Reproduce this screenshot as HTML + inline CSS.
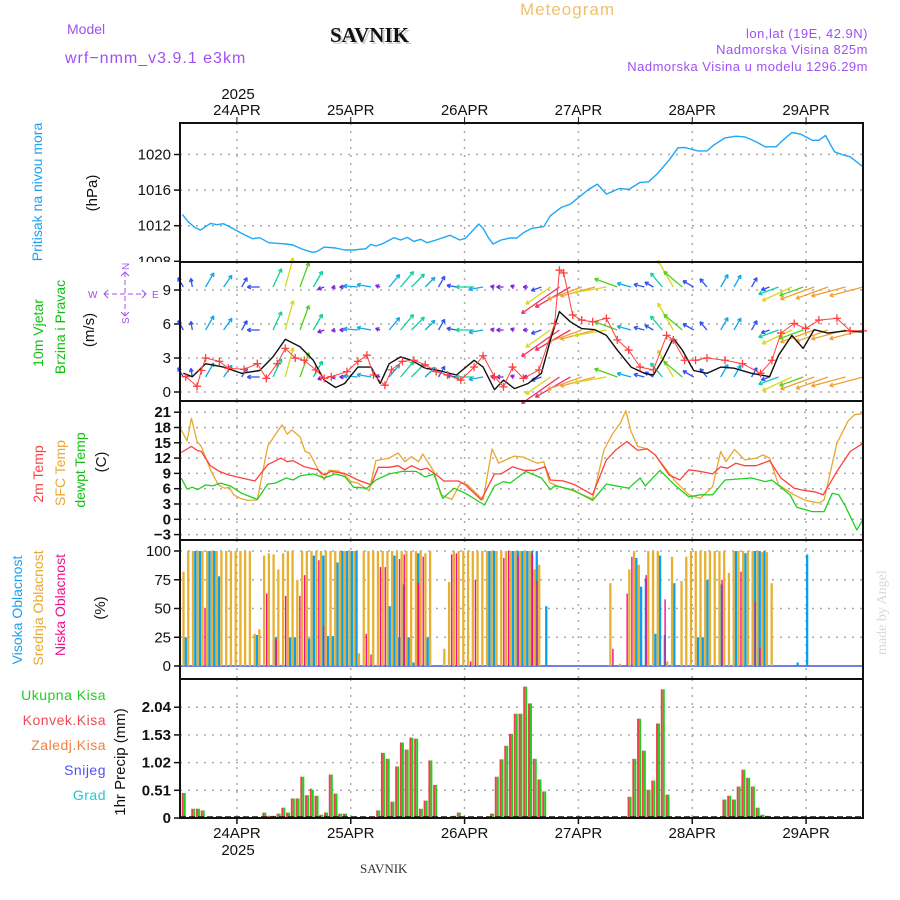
<!DOCTYPE html>
<html><head><meta charset="utf-8"><style>
html,body{margin:0;padding:0;background:#fff;}
svg{display:block;font-family:"Liberation Sans",sans-serif;}
</style></head><body>
<svg id="c" width="900" height="900" viewBox="0 0 900 900">
<defs><clipPath id="pclip"><rect x="0" y="0" width="900" height="262"/></clipPath></defs>
<g>
<text x="520" y="15" font-size="17" fill="#f0c070" letter-spacing="1">Meteogram</text>
<text x="332" y="44" font-size="21" font-weight="bold" font-family="Liberation Serif,serif" fill="#ccc">SAVNIK</text>
<text x="330" y="42" font-size="21" font-weight="bold" font-family="Liberation Serif,serif" fill="#111">SAVNIK</text>
<text x="67" y="34" font-size="14" fill="#a050f0">Model</text>
<text x="65" y="63" font-size="16" fill="#a050f0" letter-spacing="1">wrf−nmm_v3.9.1 e3km</text>
<text x="868" y="38" font-size="13" fill="#a050f0" text-anchor="end" letter-spacing="0.5">lon,lat (19E, 42.9N)</text>
<text x="868" y="54" font-size="13" fill="#a050f0" text-anchor="end" letter-spacing="0.5">Nadmorska Visina 825m</text>
<text x="868" y="71" font-size="13" fill="#a050f0" text-anchor="end" letter-spacing="0.5">Nadmorska Visina u modelu 1296.29m</text>
<text x="238" y="99" font-size="15" text-anchor="middle" fill="#111">2025</text>
<text x="360" y="873" font-size="13" font-family="Liberation Serif,serif" fill="#333">SAVNIK</text>
<text transform="translate(886,655) rotate(-90)" font-size="14" font-family="Liberation Serif,serif" fill="#d8d8d8">made by Angel</text>
<text x="238" y="855" font-size="15" text-anchor="middle" fill="#111">2025</text>
</g>
<g>
<text transform="translate(42,192) rotate(-90)" font-size="14" fill="#1ea0f0" text-anchor="middle">Pritisak na nivou mora</text>
<text transform="translate(97,193) rotate(-90)" font-size="15" fill="#111" text-anchor="middle">(hPa)</text>
<text transform="translate(43,333) rotate(-90)" font-size="14" fill="#10c010" text-anchor="middle">10m Vjetar</text>
<text transform="translate(65,327) rotate(-90)" font-size="14" fill="#10c010" text-anchor="middle">Brzina i Pravac</text>
<text transform="translate(94,330) rotate(-90)" font-size="15" fill="#111" text-anchor="middle">(m/s)</text>
<text transform="translate(43,474) rotate(-90)" font-size="14" fill="#ff4040" text-anchor="middle">2m Temp</text>
<text transform="translate(65,473) rotate(-90)" font-size="14" fill="#e8a830" text-anchor="middle">SFC Temp</text>
<text transform="translate(85,470) rotate(-90)" font-size="14" fill="#10c010" text-anchor="middle">dewpt Temp</text>
<text transform="translate(106,462) rotate(-90)" font-size="15" fill="#111" text-anchor="middle">(C)</text>
<text transform="translate(22,610) rotate(-90)" font-size="14" fill="#1ea0f0" text-anchor="middle">Visoka Oblacnost</text>
<text transform="translate(43,608) rotate(-90)" font-size="14" fill="#e8a830" text-anchor="middle">Srednja Oblacnost</text>
<text transform="translate(65,605) rotate(-90)" font-size="14" fill="#f0108a" text-anchor="middle">Niska Oblacnost</text>
<text transform="translate(105,608) rotate(-90)" font-size="15" fill="#111" text-anchor="middle">(%)</text>
<text transform="translate(125,762) rotate(-90)" font-size="15" fill="#111" text-anchor="middle">1hr Precip (mm)</text>
<text x="106" y="700" font-size="14" fill="#20d020" text-anchor="end" letter-spacing="0.5">Ukupna Kisa</text>
<text x="106" y="725" font-size="14" fill="#f04850" text-anchor="end" letter-spacing="0.5">Konvek.Kisa</text>
<text x="106" y="750" font-size="14" fill="#f08040" text-anchor="end" letter-spacing="0.5">Zaledj.Kisa</text>
<text x="106" y="775" font-size="14" fill="#5050f0" text-anchor="end" letter-spacing="0.5">Snijeg</text>
<text x="106" y="800" font-size="14" fill="#20c8d0" text-anchor="end" letter-spacing="0.5">Grad</text>
</g>
<g stroke="#a050f0" fill="none" stroke-width="1">
<line x1="104" y1="294" x2="146" y2="294" stroke-dasharray="5,3"/>
<line x1="125" y1="272" x2="125" y2="316" stroke-dasharray="5,3"/>
<polyline points="108,290 104,294 108,298"/><polyline points="142,290 146,294 142,298"/>
<polyline points="121,276 125,272 129,276"/><polyline points="121,312 125,316 129,312"/>
<text x="88" y="298" font-size="10" fill="#a050f0" stroke="none">W</text>
<text x="152" y="298" font-size="10" fill="#a050f0" stroke="none">E</text>
<text transform="translate(129,270) rotate(-90)" font-size="10" fill="#a050f0" stroke="none">N</text>
<text transform="translate(129,324) rotate(-90)" font-size="10" fill="#a050f0" stroke="none">S</text>
</g>
<g id="plots"></g>
</svg>
<script>
// ---------- DATA ----------
const dayLabels = ["24APR","25APR","26APR","27APR","28APR","29APR"];
const dayHours = [12,36,60,84,108,132];
const pressTicks = [1008,1012,1016,1020];
const pressTimes = [0.5,1.7,3.1,4.3,6.4,7.8,9.2,11.1,13,15.3,16.8,18.7,20.5,22.4,23.8,25.7,27.9,28.8,30.4,32.8,34.7,36.6,39.2,40.2,41.3,42.7,45.1,46.5,47.9,49.3,50.7,52.1,54,56.9,59,60.2,63,63.9,65.1,66,67.7,69.6,71,72.4,74.1,76.7,78.1,80.4,82.3,84.2,86.1,88,89.9,92.7,94.6,97,98.8,100.7,103.1,105,106.4,109.2,111.1,112.5,114.9,117.2,119.1,121.5,123.4,125.7,127.1,129,130.9,133.3,134.7,136.1,138,139.9,141.3,144];
const pressVals = [1013.27,1012.45,1011.81,1011.51,1012.26,1012.11,1012.22,1011.7,1011.14,1010.54,1010.65,1010.09,1010.02,1009.94,1009.83,1009.38,1009.01,1009.08,1009.6,1009.5,1009.27,1009.27,1009.42,1009.9,1009.72,1009.98,1010.65,1010.39,1010.69,1010.24,1010.47,1010.09,1010.39,1010.92,1010.39,1010.58,1012.19,1011.7,1010.58,1009.94,1010.39,1010.62,1010.62,1011.21,1011.7,1011.89,1013.12,1014.06,1014.43,1015.25,1016.07,1016.67,1015.55,1016.19,1016.07,1016.86,1016.93,1017.87,1019.36,1020.75,1020.79,1020.41,1020.41,1021.05,1021.87,1022.06,1021.98,1021.42,1020.86,1020.86,1021.6,1022.47,1022.28,1021.6,1021.6,1022.13,1020.3,1019.93,1019.74,1018.62];

const windTicks = [0,3,6,9];
const windTimes = [0.7,2.6,5.4,9.2,13,16.8,19.6,22.2,25.3,28.1,30.4,32.8,34.7,37.5,40.3,42.2,44.1,46.5,48.8,51.7,54.5,58.3,62,63.9,66.3,68.2,70.5,73.4,76.2,78.1,80,82.3,84.7,87.5,89.9,92.2,95.1,97.9,99.8,101.7,104,105.9,108.3,111.1,114,116.8,120.5,124.3,126.2,129,131.4,133.7,136.6,140.3,144];
const windSpeed = [1.65,1.35,2.5,2.2,1.65,1.9,3.1,4.65,4.0,2.8,1.05,0.4,0.75,2.2,2.2,0.75,2.5,3.1,2.8,2.1,1.9,1.5,2.8,2.2,0.2,1.05,0.3,0.75,1.65,4.6,7.1,6.2,5.6,5.5,5.0,3.7,2.2,1.65,1.5,2.8,4.75,3.7,1.9,1.65,2.2,2.1,1.65,1.35,3.25,5.0,3.85,5.5,5.2,5.4,5.3];
const windDir = [120,100,60,55,60,180,65,75,70,60,200,190,180,175,170,160,50,50,45,45,60,170,180,190,170,180,160,180,200,215,215,210,200,195,190,160,165,165,150,130,120,140,150,130,60,60,60,200,200,205,200,200,200,195,195];
const gustTimes = [1.2,3.6,4.5,5.4,8.3,10.2,13.5,16.3,18.2,20.5,22.2,24.3,26.2,28.6,30.4,31.9,35.2,37.5,39.4,40.8,43.2,44.6,46.9,49.3,51.7,54,56.4,59.2,62,63.9,66.3,68.2,70.1,72.4,75.7,79,80,80.9,82.8,84.7,87,89.9,92.2,94.6,97,99.8,102.6,104,106.4,108.7,111.1,114.9,118.6,122.4,124.8,126.7,129.5,131.9,134.7,138.5,141.3,144];
const gustVals = [1.35,0.5,1.9,3.0,2.7,2.1,2.0,2.5,1.2,2.5,3.85,3.0,2.8,1.95,1.2,1.35,1.8,2.7,3.25,1.5,0.6,1.95,2.7,2.8,2.4,1.8,1.5,1.05,2.2,3.2,1.35,0.45,2.2,1.2,1.95,6.05,10.75,10.5,6.8,6.35,6.2,6.5,4.6,3.7,2.2,1.95,5.0,4.6,2.8,2.8,3.0,2.8,2.5,1.65,2.8,5.2,6.05,5.6,6.35,6.5,5.4,5.4];

const tempTicks = [-3,0,3,6,9,12,15,18,21];
const sfcTimes = [0.25,1.5,2.4,3.6,4.5,6.4,8.1,9.4,10.4,11.3,13,14.4,16.3,18.5,19.8,21.5,22.6,23.6,25.3,26.4,27.3,29,30.4,31.4,33.3,34.7,36.1,37.5,39.9,41.3,44.1,46,47.4,48.8,50.3,51.2,53.5,55,57.3,59.2,60.6,63.9,65.8,67.2,68.7,70.5,72.4,75.3,76.7,77.9,79.6,82.8,87,89.4,91.3,92.8,94,95.1,96.5,98.5,100.2,102.6,104.5,107.3,109.7,112.3,114,115.1,116.9,119.1,121.5,122.9,124.3,126.2,129.5,131.9,134.7,135.8,138.5,140.8,142.2,144];
const sfcVals = [17.54,15.4,19.8,15.25,14.3,9.7,6.75,6.1,6.3,4.8,4.0,3.7,3.8,14.3,16.2,18.5,16.7,17.5,16.2,13.3,13,10,7.7,9.6,9.5,8.7,7.4,7.1,5.6,11.5,12,13,11.3,12.3,11.3,12.8,9.4,4.8,3.9,7.2,6.8,3.8,13.8,11,11.65,12.4,12.2,11,11.3,7.2,6.55,5.6,4.0,13.6,16.9,18.8,21.3,17.2,14.3,13.8,12.6,9.7,7.4,4.8,4.1,6.4,13.3,11.3,13.7,11.65,12,12.6,12,6.75,4.8,3.7,3.2,3.8,14.9,19.2,20.5,20.7];
const t2Times = [0.25,2.4,3.6,4.5,6.4,8.3,10.2,13,15.8,18.5,21.3,22.6,23.8,26.2,29,30.4,31.8,34.7,37.5,40.3,41.8,44.1,46,47.4,48.8,50.7,52.1,54.5,55.6,58.7,60.2,63.5,66.3,67.7,70.1,72.4,74.8,77,78.1,80.9,83.3,87,89.9,91.9,94.2,96.5,98.5,100.2,103.1,105.4,107.3,109.7,112.3,114,115.4,117.2,119.1,121.5,124.3,126.7,129.5,131.9,133.8,135.6,138.5,141.3,144];
const t2Vals = [13.1,14.3,13.5,13.3,10.5,9.4,8.7,8.1,7.5,10.7,12,11.3,11.5,10.3,9.7,8.7,9.4,9,7.7,6.75,10.2,10.2,10.5,9.7,10.5,9.7,10,8.4,7.5,7.5,6.75,3.8,8.9,8.9,10.3,9.6,9.6,10.3,7.7,7.5,6.75,4.8,11.65,13.6,15.25,13.5,13.8,12.6,8.7,7.7,9.7,9.4,8.9,10.3,10,11,10.5,10.5,11.5,8.1,6.1,5.6,5.4,4.8,9.4,13.3,14.9];
const dewTimes = [0.25,1.5,2.6,3.7,5.4,6.9,8.5,10.6,13,16.3,18.5,20.1,22.4,23.8,25.3,28.1,30.4,32.8,34.7,36.6,39.4,41.3,44.1,46.9,49.8,51.7,53.5,55.4,57.8,60.2,64.2,66.3,68.2,69.6,72.9,76.2,78.1,79,82.8,87,89.9,94.6,97,98.1,101.2,104.5,107.3,109.7,112.3,114.9,120.5,123.4,124.8,128.6,130,133.3,135.8,137.5,138.9,140.3,142.7,144];
const dewVals = [8.1,5.9,6.3,5.8,6.75,6.55,7.1,6.55,5.1,3.9,6.9,7.1,8.1,7.7,8.5,8.9,8.1,8.9,8.4,6.3,6.1,7.7,8.9,9.4,9.4,8.3,8.9,4.1,6.1,5.1,2.8,6.55,7.4,7.1,9.4,8.1,5.8,6.55,5.8,3.7,6.9,6.1,8.1,6.55,9.6,6.55,4.4,4.8,4.8,7.7,8.1,7.4,7.7,4.8,2.4,1.5,1.5,5.1,4.8,2.5,-2.1,0.0];

const cloudTicks = [0,25,50,75,100];
const cloudMid = [0,82,100,100,100,100,100,100,100,100,100,100,100,100,100,100,28,32,96,98,97,84,98,100,100,75,100,100,100,100,100,100,100,100,100,100,100,100,11,100,100,100,100,100,100,100,100,100,100,100,100,100,98,100,0,0,15,73,100,100,100,100,100,100,100,100,100,100,100,100,100,100,100,100,100,84,88,0,0,0,0,0,0,0,0,0,0,0,0,0,0,72,0,2,0,84,100,88,0,100,100,100,0,4,95,0,74,95,100,100,100,100,100,100,100,100,81,100,100,100,100,100,100,99,99,72,0,0,0,0,0,0,0,0,0,0,0,0,0,0,0,0,0,0,0];
const cloudHigh = [0,25,0,100,100,0,100,100,78,0,0,0,0,0,0,0,27,0,0,0,25,0,0,25,25,0,0,24,96,0,96,26,26,90,100,100,100,100,0,0,0,0,0,0,52,96,25,71,25,3,98,0,25,0,0,0,0,0,0,0,0,0,0,0,0,100,100,0,0,0,100,100,100,100,100,100,0,52,0,0,0,0,0,0,0,0,0,0,0,0,0,0,0,0,0,0,94,69,76,0,28,96,27,0,72,0,0,0,0,25,25,75,0,0,71,0,0,100,0,98,0,100,100,100,0,0,0,0,0,0,3,0,97,0,0,0,0,0,0,0,0,0,0,0,0];
const cloudLow = [0,0,0,0,0,50,0,0,0,0,0,0,0,0,0,0,0,0,63,0,23,0,61,0,0,61,79,0,0,92,35,0,0,0,0,0,0,0,0,28,10,0,86,86,0,0,93,97,0,0,72,95,0,0,0,0,0,97,98,0,0,4,75,0,0,0,0,0,94,100,0,96,0,0,98,74,0,0,0,0,0,0,0,0,0,0,0,0,0,0,0,15,0,0,63,95,0,0,79,0,0,0,58,0,0,0,0,0,0,0,0,0,0,0,75,0,0,0,82,0,0,56,16,0,0,0,0,0,0,0,0,0,0,0,0,0,0,0,0,0,0,0,0,0,0];

const precipTicks = [0,0.51,1.02,1.53,2.04];
const precipHours = [1,3,4,5,18,19,20,21,22,23,24,25,26,27,28,29,30,31,32,33,34,35,42,43,44,45,46,47,48,49,50,51,52,53,54,58,59,66,67,68,69,70,71,72,73,74,75,76,77,92,95,96,97,98,99,100,101,102,103,115,116,117,118,119,120,121,122,123,124];
const precipTotal = [0.46,0.17,0.17,0.14,0.10,0.04,0.04,0.08,0.19,0.10,0.36,0.36,0.76,0.42,0.52,0.41,0.06,0.10,0.80,0.45,0.08,0.08,0.14,1.20,1.09,0.30,0.95,1.39,1.26,1.48,1.46,0.17,0.32,1.06,0.61,0.04,0.10,0.08,0.76,1.08,1.33,1.55,1.92,1.92,2.42,2.11,1.09,0.71,0.49,0.02,0.39,1.09,1.83,1.24,0.52,0.69,1.74,2.37,0.43,0.34,0.41,0.34,0.58,0.89,0.74,0.58,0.19,0.06,0.04];
const precipConv = [0.46,0.17,0.17,0.14,0.10,0.04,0.04,0.08,0.19,0.10,0.36,0.36,0.76,0.42,0.54,0.41,0.06,0.10,0.80,0.45,0.08,0.08,0.14,1.20,1.09,0.30,0.95,1.39,1.26,1.48,1.46,0.17,0.32,1.06,0.61,0.04,0.10,0.08,0.76,1.08,1.33,1.55,1.92,1.92,2.42,2.11,1.09,0.71,0.49,0.02,0.39,1.09,1.83,1.24,0.52,0.69,1.74,2.37,0.43,0.34,0.41,0.34,0.58,0.89,0.74,0.58,0.19,0.06,0.04];

// ---------- SCALES ----------
const X0 = 180, X1 = 863, HRS = 144;
function xH(h){ return X0 + h*(X1-X0)/HRS; }
const yP = p => 261.3 - (p-1008)*8.9;
const yW = s => 392 - s*11.33;
const yT = t => 519.3 - t*5.1;
const yC = c => 666 - c*1.15;
const yR = v => 818 - v*54.3;
const panels = [[123,262,"pressure-panel"],[262,401,"wind-panel"],[401,540,"temperature-panel"],[540,679,"cloud-panel"],[679,818,"precip-panel"]];

const NS="http://www.w3.org/2000/svg";
const root=document.getElementById('plots');
function mk(tag, attrs, parent){ const e=document.createElementNS(NS,tag); for(const k in attrs) e.setAttribute(k,attrs[k]); (parent||root).appendChild(e); return e; }
function grp(name){ const g=mk('g',{}); 
 return g; }
function poly(times, vals, yf, color, w, name, parent){
  const pts = times.map((t,i)=>xH(t).toFixed(1)+','+yf(vals[i]).toFixed(1)).join(' ');
  const p = mk('polyline',{points:pts,fill:'none',stroke:color,'stroke-width':w,'stroke-linejoin':'round'},parent);
  
  
  return p;
}

// grids
const gridG = grp('grid');
panels.forEach(([t,b])=>{
  dayHours.forEach(h=>{ mk('line',{x1:xH(h),x2:xH(h),y1:t,y2:b,stroke:'#aaa','stroke-width':1.5,'stroke-dasharray':'2,6'},gridG); });
});
function hgrid(ticks, yf, fmt, t, b, name, bold){
  const g = grp(name);
  ticks.forEach(v=>{
    const y=yf(v);
    if(y>t+1 && y<b-1) mk('line',{x1:X0,x2:X1,y1:y,y2:y,stroke:'#aaa','stroke-width':1.5,'stroke-dasharray':'2,6'},g);
    mk('line',{x1:X0-6,x2:X0,y1:y,y2:y,stroke:'#111','stroke-width':1.5},g);
    const tx=mk('text',{x:X0-9,y:y+5,'font-size':15,'text-anchor':'end',fill:'#111','font-weight':bold?'bold':'normal'},g);
    tx.textContent=fmt(v);
  });
  return g;
}
const pg = hgrid(pressTicks, yP, v=>v, 123, 262, 'pressure-y-axis');
pg.setAttribute('clip-path','url(#pclip)');
hgrid(windTicks, yW, v=>v, 262, 401, 'wind-y-axis');
hgrid(tempTicks, yT, v=>v<0?'−'+(-v):v, 401, 540, 'temp-y-axis', true);
hgrid(cloudTicks, yC, v=>v, 540, 679, 'cloud-y-axis');
hgrid(precipTicks, yR, v=>v===0?'0':v.toFixed(2), 679, 818, 'precip-y-axis', true);

// day labels
const dl = grp('date-labels');
dayLabels.forEach((d,i)=>{
  const x=xH(dayHours[i]);
  const a=mk('text',{x:x,y:115,'font-size':15,'text-anchor':'middle',fill:'#111'},dl); a.textContent=d;
  const b=mk('text',{x:x,y:838,'font-size':15,'text-anchor':'middle',fill:'#111'},dl); b.textContent=d;
  mk('line',{x1:x,x2:x,y1:117,y2:123,stroke:'#111','stroke-width':1},dl);
  mk('line',{x1:x,x2:x,y1:818,y2:824,stroke:'#111','stroke-width':1.5},dl);
});

// pressure
poly(pressTimes, pressVals, yP, '#1ea8f5', 1.4, 'pressure-line');

// wind arrows
const speedColor = s => s<1.2?'#8020e0':s<2?'#3050f0':s<2.8?'#10a8e8':s<3.5?'#10d0a0':s<4.3?'#50d020':s<5.2?'#d8d820':s<6.2?'#f0a030':'#f03060';
const wa = grp('wind-arrows');
[287,330,377].forEach(base=>{
  windTimes.forEach((t,i)=>{
    const s=windSpeed[i], d=windDir[i]*Math.PI/180, L=Math.max(4,s*6.5);
    const x0=xH(t), y0=base, x1=x0+L*Math.cos(d), y1=y0-L*Math.sin(d);
    const c=speedColor(s);
    const a=mk('line',{x1:x0,y1:y0,x2:x1,y2:y1,stroke:c,'stroke-width':1.3},wa);
    
    
    const hl=4, ang=Math.atan2(y1-y0,x1-x0);
    [0.5,-0.5].forEach(o=>mk('line',{x1:x1,y1:y1,x2:x1-hl*Math.cos(ang+o),y2:y1-hl*Math.sin(ang+o),stroke:c,'stroke-width':1.3},wa));
  });
});
poly(windTimes, windSpeed, yW, '#111', 1.4, 'wind-speed-line');
poly(gustTimes, gustVals, yW, '#ff4040', 1, 'gust-line');
const gm = grp('gust-markers');
gustTimes.forEach((t,i)=>{
  const x=xH(t), y=yW(gustVals[i]);
  const p=mk('path',{d:`M${x-4} ${y}H${x+4}M${x} ${y-4}V${y+4}`,stroke:'#ff4040','stroke-width':1.3,fill:'none'},gm);
  
  
});

// temperature
poly(sfcTimes, sfcVals, yT, '#e8a830', 1.3, 'sfc-temp-line');
poly(t2Times, t2Vals, yT, '#ff4040', 1.3, 't2m-line');
poly(dewTimes, dewVals, yT, '#20d020', 1.3, 'dewpoint-line');

// clouds
const cg = grp('cloud-bars');
mk('line',{x1:X0,x2:X1,y1:yC(0),y2:yC(0),stroke:'#7080e0','stroke-width':2},cg);
cloudMid.forEach((v,h)=>{
  const x=xH(h);
  if(v>0){ const r=mk('rect',{x:x-2.4,y:yC(v),width:2.3,height:yC(0)-yC(v),fill:'#e8b030'},cg);
    
     }
  const hv=cloudHigh[h];
  if(hv>0){ const r=mk('rect',{x:x-0.1,y:yC(hv),width:2.3,height:yC(0)-yC(hv),fill:'#0aa0f0'},cg);
    
     }
  const lv=cloudLow[h];
  if(lv>0){ const r=mk('rect',{x:x+0.6,y:yC(lv),width:1.4,height:yC(0)-yC(lv),fill:'#f0108a'},cg);
    
     }
});

// precip
const rg = grp('precip-bars');
precipHours.forEach((h,i)=>{
  const x=xH(h)-1;
  const r1=mk('rect',{x:x-2,y:yR(precipConv[i]),width:2,height:yR(0)-yR(precipConv[i]),fill:'#f04050'},rg);
  
  
  const r2=mk('rect',{x:x,y:yR(precipTotal[i]),width:2,height:yR(0)-yR(precipTotal[i]),fill:'#20d020'},rg);
  
  
});
mk('line',{x1:X0,x2:X1,y1:817,y2:817,stroke:'#111','stroke-width':1.5,'stroke-dasharray':'6,3'},rg);

// frames
const fg = grp('panel-frames');
panels.forEach(([t,b,n])=>{
  const r=mk('rect',{x:X0,y:t,width:X1-X0,height:b-t,fill:'none',stroke:'#111','stroke-width':2},fg);
  
  
});
</script>
</body></html>
